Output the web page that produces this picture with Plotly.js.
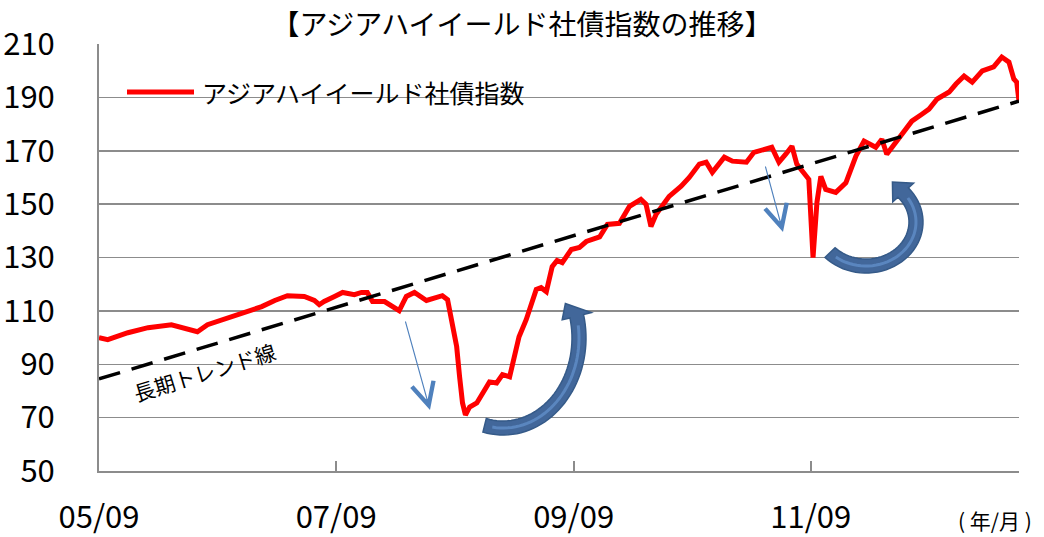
<!DOCTYPE html>
<html><head><meta charset="utf-8">
<script src="https://cdn.plot.ly/plotly-3.0.1.min.js"></script>
<style>body{margin:0;background:#fff}#chart{width:1044px;height:537px}</style>
</head><body><div id="chart"></div>
<script>
// ---- data ----
const chartTitle = '【アジアハイイールド社債指数の推移】';
const seriesName = 'アジアハイイールド社債指数';
const trendLabel = '長期トレンド線';
const axisUnit = '( 年/月 )';
const tickDates = ['2005-09-01','2007-09-01','2009-09-01','2011-09-01'];
const tickLabels = ['05/09','07/09','09/09','11/09'];
const yTickValues = [50,70,90,110,130,150,170,190,210];
const dates = ['2005-09-01','2005-09-28','2005-11-29','2006-01-30','2006-04-12','2006-05-12','2006-07-01','2006-08-01','2006-10-02','2006-11-14',
'2007-01-15','2007-02-24','2007-04-04','2007-05-26','2007-06-26','2007-07-11','2007-07-26','2007-08-27','2007-09-21','2007-10-27',
'2007-11-18','2007-12-06','2007-12-22','2008-01-28','2008-02-22','2008-03-13','2008-04-04','2008-04-29','2008-06-05','2008-07-24',
'2008-08-09','2008-08-21','2008-09-06','2008-09-15','2008-09-24','2008-10-03','2008-10-16','2008-11-07','2008-11-25','2008-12-16',
'2009-01-07','2009-01-25','2009-02-16','2009-03-02','2009-03-17','2009-04-08','2009-04-23','2009-05-09','2009-05-24','2009-06-09',
'2009-06-27','2009-07-12','2009-07-28','2009-08-25','2009-09-19','2009-10-10','2009-11-20','2009-12-14','2010-01-20','2010-02-20',
'2010-03-27','2010-04-12','2010-04-27','2010-05-13','2010-06-22','2010-07-29','2010-08-23','2010-09-23','2010-10-14','2010-11-02',
'2010-12-09','2011-01-03','2011-02-15','2011-03-10','2011-05-04','2011-05-26','2011-06-16','2011-07-05','2011-07-20','2011-08-11',
'2011-08-26','2011-09-08','2011-09-20','2011-10-02','2011-10-17','2011-11-17','2011-12-18','2012-01-18','2012-02-12','2012-03-19',
'2012-04-07','2012-04-22','2012-05-29','2012-07-08','2012-08-08','2012-08-30','2012-09-24','2012-10-31','2012-11-21','2012-12-16',
'2013-01-10','2013-02-10','2013-03-17','2013-04-11','2013-05-03','2013-05-18','2013-05-27','2013-06-03'];
const indexValues = [100.0,99.2,101.8,103.7,104.8,103.7,102.2,104.8,107.5,109.3,
111.6,113.9,115.7,115.4,113.9,112.3,113.5,115.4,116.9,116.1,
116.9,116.9,113.5,113.5,111.6,110.1,115.4,116.9,113.9,115.7,
114.2,105.6,96.6,85.3,75.5,71.0,74.0,75.5,79.3,83.4,
83.0,86.1,85.3,91.7,100.3,106.7,111.6,118.0,118.7,117.2,
126.6,128.9,128.1,133.0,133.8,136.0,137.7,142.4,142.8,149.2,
151.8,149.9,141.6,146.2,152.9,156.7,160.0,165.0,165.7,161.9,
167.6,166.1,165.7,169.4,171.3,165.7,168.7,171.7,165.0,161.9,
159.3,130.0,150.7,160.4,155.5,154.4,158.0,168.0,173.6,171.3,
174.3,168.7,174.3,181.1,183.7,185.6,189.4,192.0,195.0,198.0,
195.7,199.9,201.4,205.1,203.2,196.9,195.7,188.6];
const trendDates = ['2005-09-01','2013-06-03'];
const trendValues = [84.5, 188.6];

// ---- layout helpers (decoration placement) ----
const W = 1044, H = 537, PL = 99, PR = 1019, PT = 44, PB = 471;
const fx = x => (x - PL) / (PR - PL);
const fy = y => (PB - y) / (PB - PT);
const FONT = 'Noto Sans CJK JP, Noto Sans, sans-serif';
const GRID = '#8c8c8c';

function circArrow(cx, cy, rx, ry, t0, t1, hw, headHalf, headLen, headRot) {
  const r = d => d * Math.PI / 180;
  const N = 40, outer = [], inner = [], mid = [];
  for (let i = 0; i <= N; i++) {
    const t = r(t0 + (t1 - t0) * i / N);
    outer.push([cx + (rx + hw) * Math.cos(t), cy + (ry + hw) * Math.sin(t)]);
    inner.push([cx + (rx - hw) * Math.cos(t), cy + (ry - hw) * Math.sin(t)]);
    mid.push([cx + rx * Math.cos(t), cy + ry * Math.sin(t)]);
  }
  const te = r(t1);
  let dx = rx * Math.sin(te), dy = -ry * Math.cos(te);
  const n = Math.hypot(dx, dy); dx /= n; dy /= n;
  const a = r(headRot || 0);
  const rdx = dx * Math.cos(a) - dy * Math.sin(a), rdy = dx * Math.sin(a) + dy * Math.cos(a);
  const bx = cx + rx * Math.cos(te), by = cy + ry * Math.sin(te);
  const o = [cx + (rx + headHalf) * Math.cos(te), cy + (ry + headHalf) * Math.sin(te)];
  const inn = [cx + (rx - headHalf) * Math.cos(te), cy + (ry - headHalf) * Math.sin(te)];
  const tip = [bx + rdx * headLen, by + rdy * headLen];
  const pts = outer.concat([o, tip, inn]).concat(inner.reverse());
  const toP = p => fx(p[0]).toFixed(5) + ',' + fy(p[1]).toFixed(5);
  const band = 'M' + pts.map(toP).join('L') + 'Z';
  const line = 'M' + mid.slice(2, N - 1).map(toP).join('L');
  return [
    {type:'path', xref:'paper', yref:'paper', path: band, fillcolor:'#42679a', line:{color:'#355a88', width:1.5}, layer:'above'},
    {type:'path', xref:'paper', yref:'paper', path: line, line:{color:'#5a86bf', width:3}, layer:'above'}
  ];
}

const traces = [
  {x: dates, y: indexValues, type:'scatter', mode:'lines', name: seriesName,
   line:{color:'#ff0000', width:5}, showlegend:false, hoverinfo:'skip'},
  {x: trendDates, y: trendValues, type:'scatter', mode:'lines', name: trendLabel,
   line:{color:'#000000', width:3.5, dash:'22px,12px'}, showlegend:false, hoverinfo:'skip'}
];

const shapes = [
  {type:'line', xref:'paper', yref:'paper', x0: fx(127), x1: fx(194), y0: fy(92), y1: fy(92),
   line:{color:'#ff0000', width:5}}
].concat(
  circArrow(503, 338, 76, 90, 104, -14, 7, 15, 17, -30),
  circArrow(866, 222, 50, 44, 136, -42, 7, 14, 15, 0)
);

const annotations = [
  {xref:'paper', yref:'paper', x: fx(200), y: fy(92), xanchor:'left', yanchor:'middle', showarrow:false,
   text: seriesName, font:{family:FONT, size:25, color:'#000'}},
  {xref:'paper', yref:'paper', x: fx(204), y: fy(372), xanchor:'center', yanchor:'middle', showarrow:false,
   text: trendLabel, textangle:-17, font:{family:FONT, size:21, color:'#000'}},
  {xref:'paper', yref:'paper', x: fx(995), y: fy(520), xanchor:'center', yanchor:'middle', showarrow:false,
   text: axisUnit, font:{family:FONT, size:21, color:'#000'}},
  {xref:'paper', yref:'paper', x: fx(430), y: fy(410), ax:-25, ay:-90, axref:'pixel', ayref:'pixel', text:'',
   showarrow:true, arrowhead:5, arrowsize:4, arrowwidth:1.1, arrowcolor:'#4f81bd'},
  {xref:'paper', yref:'paper', x: fx(783), y: fy(232), ax:-18, ay:-67, axref:'pixel', ayref:'pixel', text:'',
   showarrow:true, arrowhead:5, arrowsize:4, arrowwidth:1.1, arrowcolor:'#4f81bd'}
];

const layout = {
  width: W, height: H,
  margin:{l: PL, r: W - PR, t: PT, b: H - PB, pad:0},
  paper_bgcolor:'#fff', plot_bgcolor:'#fff',
  font:{family:FONT, color:'#000'},
  title:{text: chartTitle, x:0.5, xref:'container', xanchor:'center', y: 1 - 25/H, yref:'container', yanchor:'middle',
         font:{family:FONT, size:28, color:'#000'}},
  xaxis:{type:'date', range:[trendDates[0], trendDates[1]], tickmode:'array', tickvals: tickDates, ticktext: tickLabels,
         showgrid:false, zeroline:false, showline:true, linecolor:GRID, linewidth:2,
         ticks:'inside', ticklen:10, tickwidth:2, tickcolor:GRID, ticklabelstandoff:18,
         tickfont:{family:FONT, size:31, color:'#000'}, fixedrange:true},
  yaxis:{range:[50,210], tickmode:'array', tickvals: yTickValues, showgrid:true, gridcolor:GRID, gridwidth:1.5,
         zeroline:false, showline:true, linecolor:GRID, linewidth:2, ticks:'', ticklabelstandoff:36,
         tickfont:{family:FONT, size:31, color:'#000'}, fixedrange:true},
  shapes: shapes,
  annotations: annotations,
  showlegend:false
};

Plotly.newPlot('chart', traces, layout, {staticPlot:true, displayModeBar:false});
</script>
</body></html>
